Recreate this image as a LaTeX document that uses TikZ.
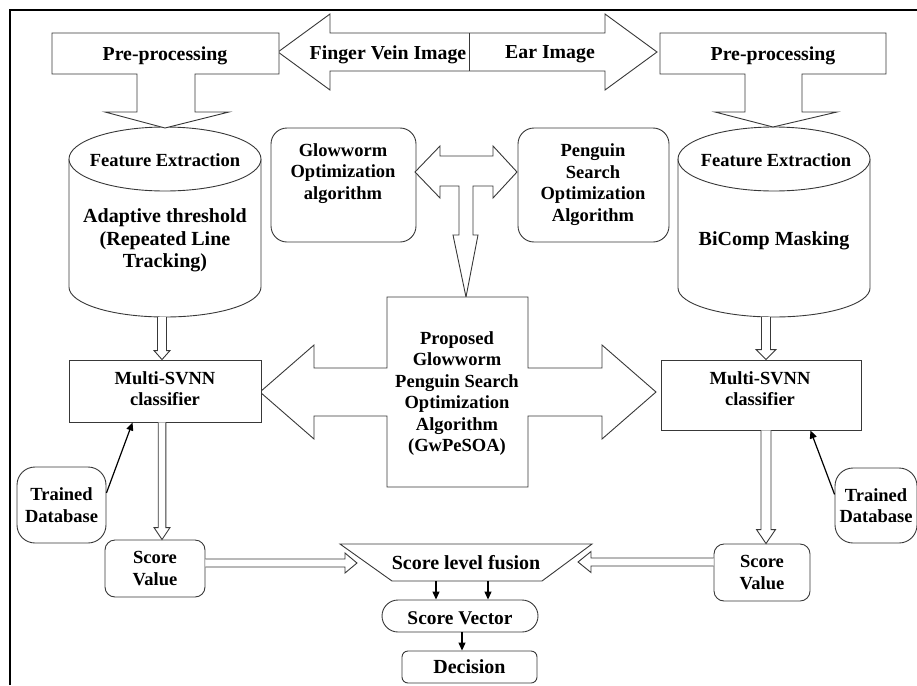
\documentclass[tikz,border=0pt]{standalone}
\usepackage{fontspec}
\setmainfont{Liberation Serif}
\usetikzlibrary{arrows.meta,calc}
\tikzset{
 ln/.style={draw=black!78, line width=0.9pt},
 txt/.style={font=\fontsize{18.5}{21.5}\selectfont\bfseries, align=center, inner sep=0pt},
 txtb/.style={font=\fontsize{19.8}{23}\selectfont\bfseries, align=center, inner sep=0pt},
 txtf/.style={font=\fontsize{20}{23}\selectfont\bfseries, align=center, inner sep=0pt},
 boxn/.style={ln, fill=white, inner sep=0pt},
 ghost/.style={inner sep=0pt, outer sep=0pt},
 harrow/.style={ln, fill=white, line join=miter},
 blk/.style={draw=black, line width=1.2pt, -{Triangle[width=7pt,length=8pt]}},
}
\newcommand\hollowV[5]{\draw[harrow] let \p1=(#1), \p2=(#2) in (\x2-#3,\y1) -- (\x2-#3,\y2+#5) -- (\x2-#4,\y2+#5) -- (\x2,\y2) -- (\x2+#4,\y2+#5) -- (\x2+#3,\y2+#5) -- (\x2+#3,\y1);}
\newcommand\hollowR[5]{\draw[harrow] let \p1=(#1), \p2=(#2) in (\x1,\y2+#3) -- (\x2-#5,\y2+#3) -- (\x2-#5,\y2+#4) -- (\x2,\y2) -- (\x2-#5,\y2-#4) -- (\x2-#5,\y2-#3) -- (\x1,\y2-#3);}
\newcommand\hollowL[5]{\draw[harrow] let \p1=(#1), \p2=(#2) in (\x1,\y2+#3) -- (\x2+#5,\y2+#3) -- (\x2+#5,\y2+#4) -- (\x2,\y2) -- (\x2+#5,\y2-#4) -- (\x2+#5,\y2-#3) -- (\x1,\y2-#3);}
\begin{document}
\begin{tikzpicture}[x=1pt,y=-1pt]
\useasboundingbox (0,0) rectangle (917,685);
\draw[line width=2pt, black] (10,685) -- (10,10) -- (917,10);

% top double arrow
\draw[harrow] (278,52) -- (330,14) -- (330,33) -- (605,33) -- (605,14) -- (657,52) -- (605,90) -- (605,71) -- (330,71) -- (330,90) -- cycle;
\draw[ln] (469,33) -- (469,71);
\node[txtb] (finger) at (388,54.5) {Finger Vein Image};
\node[txtb] (ear) at (550,54.5) {Ear Image};

% cylinders
\draw[ln, fill=white] (69,159) -- (69,287) .. controls (69,303.6) and (112,317) .. (165,317) .. controls (218,317) and (261,303.6) .. (261,287) -- (261,159);
\draw[ln, fill=white] (165,159) ellipse [x radius=96, y radius=32];
\node[ghost, minimum width=192, minimum height=189] (cylL) at (165,222.5) {};
\node[txt] (feL) at (165,160) {Feature Extraction};
\node[txt, font=\fontsize{20}{22.5}\selectfont\bfseries] (atL) at (165,240.5) {Adaptive threshold\\(Repeated Line\\Tracking)};

\draw[ln, fill=white] (678,159) -- (678,288) .. controls (678,304) and (721,317) .. (774,317) .. controls (827,317) and (870,304) .. (870,288) -- (870,159);
\draw[ln, fill=white] (774,159) ellipse [x radius=96, y radius=32];
\node[ghost, minimum width=192, minimum height=189] (cylR) at (774,222.5) {};
\node[txt] (feR) at (776,160) {Feature Extraction};
\node[txtf] (bic) at (774,241) {BiComp Masking};

% pre-processing callouts
\draw[harrow] (52,33) -- (279,33) -- (279,74) -- (195,74) -- (195,112) -- (229,112) -- (165,128) -- (105,112) -- (137,112) -- (137,74) -- (52,74) -- cycle;
\node[txtb] (preL) at (165,55.5) {Pre-processing};
\draw[harrow] (660,33) -- (886,33) -- (886,74) -- (802,74) -- (802,112) -- (837,112) -- (773,127) -- (715,112) -- (745,112) -- (745,74) -- (660,74) -- cycle;
\node[txtb] (preR) at (773,55.5) {Pre-processing};

% optimisation boxes
\node[boxn, rounded corners=16, minimum width=145, minimum height=114] (glow) at (343.5,185) {};
\node[txt] (glowt) at (343,173.5) {Glowworm\\Optimization\\algorithm};
\node[boxn, rounded corners=16, minimum width=151, minimum height=114] (peng) at (593.5,185) {};
\node[txt] (pengt) at (593,184.5) {Penguin\\Search\\Optimization\\Algorithm};

\draw[harrow] (415,172) -- (440,146) -- (440,156) -- (493,156) -- (493,146) -- (517,172) -- (493,198) -- (493,186) -- (473,186) -- (473,235) -- (478,235) -- (466,297) -- (453,235) -- (459,235) -- (459,186) -- (440,186) -- (440,198) -- cycle;

% proposed
\draw[harrow] (387,297) -- (528,297) -- (528,368) -- (602,368) -- (602,345) -- (656,392) -- (602,439) -- (602,416) -- (528,416) -- (528,487) -- (387,487) -- (387,416) -- (314,416) -- (314,439) -- (260,392) -- (314,345) -- (314,368) -- (387,368) -- cycle;
\node[txt] (prop) at (457,393.5) {Proposed\\Glowworm\\Penguin Search\\Optimization\\Algorithm\\(GwPeSOA)};

% classifiers
\node[boxn, minimum width=192, minimum height=62] (svnnL) at (165,391) {};
\node[txt] (svnnLt) at (165,388.5) {Multi-SVNN\\classifier};
\node[boxn, minimum width=200, minimum height=70] (svnnR) at (761,395) {};
\node[txt] (svnnRt) at (760,388.5) {Multi-SVNN\\classifier};

\hollowV{cylL.south}{$(svnnL.north)+(-3,0)$}{4.5pt}{8pt}{9pt}
\hollowV{cylR.south}{$(svnnR.north)+(5,0)$}{4.5pt}{10pt}{10pt}

% trained databases
\node[boxn, txt, rounded corners=18, minimum width=89, minimum height=76] (tdL) at (61.5,505) {Trained\\Database};
\node[boxn, txt, rounded corners=18, minimum width=82, minimum height=75] (tdR) at (876,505.5) {Trained\\Database};
\draw[blk] (tdL.15) -- ($(svnnL.south west)+(64,0)$);
\draw[blk] (tdR.165) -- ($(svnnR.south east)+(-51,0)$);

% score values
\node[boxn, txt, rounded corners=10, minimum width=100, minimum height=57] (scoreL) at (155,568.5) {Score\\Value};
\node[boxn, txt, rounded corners=10, minimum width=96, minimum height=57] (scoreR) at (762,572.5) {Score\\Value};
\hollowV{svnnL.south}{$(scoreL.north)+(7,0)$}{3.8pt}{8pt}{12pt}
\hollowV{svnnR.south}{$(scoreR.north)+(4,0)$}{5pt}{9.5pt}{14pt}

% fusion
\draw[ln, fill=white] (340,544) -- (592,544) -- (542,581) -- (392,581) -- cycle;
\node[ghost, minimum width=150, minimum height=37] (fus) at (467,562.5) {};
\node[txtf] (fust) at (466,563) {Score level fusion};
\coordinate (fusL) at (357,563);
\coordinate (fusR) at (578,562);
\hollowR{scoreL.east}{fusL}{4pt}{10pt}{12pt}
\hollowL{scoreR.west}{fusR}{4pt}{10.5pt}{13pt}

\node[boxn, rounded corners=16, minimum width=156, minimum height=32] (sv) at (460,616) {};
\node[txt, font=\fontsize{19.4}{22}\selectfont\bfseries] (svt) at (460,618) {Score Vector};
\node[boxn, rounded corners=6, minimum width=135, minimum height=32] (dec) at (469.5,667) {};
\node[txtf] (dect) at (469.5,667) {Decision};
\draw[blk] ($(fus.south)+(-31,0)$) -- ($(sv.north)+(-24,0)$);
\draw[blk] ($(fus.south)+(21,0)$) -- ($(sv.north)+(28,0)$);
\draw[blk] ($(sv.south)+(2,0)$) -- ($(dec.north)+(-7.5,0)$);
\end{tikzpicture}
\end{document}
